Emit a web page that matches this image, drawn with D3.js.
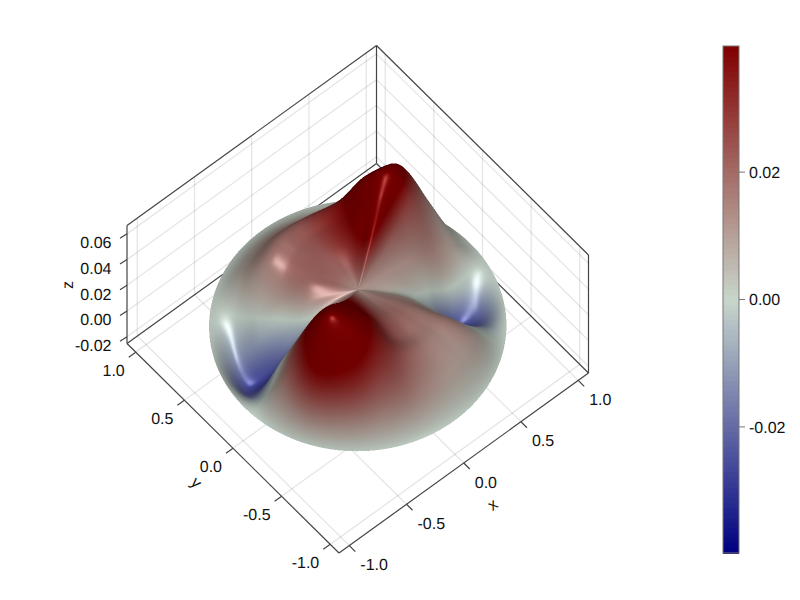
<!DOCTYPE html>
<html><head><meta charset="utf-8">
<style>html,body{margin:0;background:#fff}body{position:relative;width:800px;height:600px;overflow:hidden}svg,canvas{position:absolute;left:0;top:0}text{font-family:"Liberation Sans",Arial,sans-serif;font-size:16px;fill:#111;text-rendering:geometricPrecision}</style>
<script src="https://cdn.jsdelivr.net/npm/d3@7"></script></head>
<body><svg id="c" width="800" height="600"></svg>
<script>
const xTicks=[-1,-0.5,0,0.5,1], yTicks=[-1,-0.5,0,0.5,1], zTicks=[-0.02,0,0.02,0.04,0.06], cTicks=[-0.02,0,0.02];
const radii=[0,0.165,0.33,0.495,0.66,0.825,0.99];
const anglesDeg=[0,15,30,45,60,75,90,105,120,135,150,165,180,195,210,225,240,255,270,285,300,315,330,345,360];
// colour value read at each radius (rows) and angle (columns)
const colourRows=[
[.012,.012,.012,.012,.012,.012,.012,.012,.012,.012,.012,.012,.012,.012,.012,.012,.012,.012,.012,.012,.012,.012,.012,.012,.012],
[.012,.016,.028,.028,.024,.020,.019,.019,.019,.018,.017,.012,.016,.024,.032,.030,.026,.020,.017,.016,.015,.012,.008,.009,.012],
[.012,.020,.042,.042,.034,.028,.022,.021,.020,.018,.012,.000,.010,.032,.045,.044,.036,.025,.020,.018,.016,.011,.002,.008,.012],
[.013,.024,.050,.048,.038,.030,.023,.020,.019,.012,.000,-.014,.002,.036,.052,.050,.038,.026,.019,.016,.015,.007,-.006,.004,.013],
[.014,.026,.054,.050,.036,.028,.020,.017,.014,.005,-.008,-.026,-.004,.034,.054,.052,.036,.024,.016,.013,.014,-.005,-.024,.001,.014],
[.008,.012,.036,.030,.020,.014,.012,.010,.007,.000,-.011,-.024,-.006,.020,.040,.036,.024,.016,.011,.009,.009,-.006,-.021,-.003,.008],
[0,0,0,0,0,0,0,0,0,0,0,0,0,0,0,0,0,0,0,0,0,0,0,0,0]];
// surface height read at each radius (rows) and angle (columns)
const heightRows=[
[.028,.028,.028,.028,.028,.028,.028,.028,.028,.028,.028,.028,.028,.028,.028,.028,.028,.028,.028,.028,.028,.028,.028,.028,.028],
[.027,.031,.036,.033,.030,.029,.029,.029,.029,.029,.028,.026,.028,.032,.037,.036,.034,.032,.030,.029,.028,.026,.024,.025,.027],
[.025,.034,.045,.040,.034,.031,.030,.030,.030,.029,.025,.019,.026,.040,.049,.048,.042,.036,.032,.030,.028,.023,.018,.020,.025],
[.022,.039,.055,.049,.036,.031,.030,.030,.028,.021,.014,.004,.020,.048,.062,.060,.052,.036,.030,.029,.027,.016,.006,.012,.022],
[.016,.045,.060,.052,.034,.029,.029,.030,.027,.012,.003,-.012,.016,.045,.066,.062,.050,.036,.030,.028,.026,.008,-.012,.002,.016],
[.010,.030,.047,.025,.009,.009,.011,.012,.011,.002,-.008,-.016,.000,.028,.042,.040,.032,.021,.018,.019,.018,.004,-.010,-.002,.010],
[0,0,0,0,0,0,0,0,0,0,0,0,0,0,0,0,0,0,0,0,0,0,0,0,0]];

const colourDomain=[-0.0398,0,0.0398], colourRange=["#000080","#c8d6cb","#800000"];
const ux=d3.scaleLinear([-1.09,1.09],[0,1]), uy=d3.scaleLinear([-1.09,1.09],[0,1]), uz=d3.scaleLinear([-0.0252,0.0665],[0,1]);
const colour=d3.scaleLinear(colourDomain,colourRange).clamp(true);
const O=[339,553],Ex=[249.5,-180],Ey=[-212,-209.5],Ez=[0,-118];
const proj=(a,b,c)=>[O[0]+a*Ex[0]+b*Ey[0]+c*Ez[0],O[1]+a*Ex[1]+b*Ey[1]+c*Ez[1]];
const P=(x,y,z)=>proj(ux(x),uy(y),uz(z));
const svg=d3.select("#c");
const gx0=ux.domain()[0],gx1=ux.domain()[1],gy0=uy.domain()[0],gy1=uy.domain()[1],gz0=uz.domain()[0],gz1=uz.domain()[1];
const seg=(g,a,b,st,w)=>g.append("line").attr("x1",a[0]).attr("y1",a[1]).attr("x2",b[0]).attr("y2",b[1]).attr("stroke",st).attr("stroke-width",w);

// walls' grid
const grid=svg.append("g");const gc="rgba(0,0,0,0.10)";
xTicks.forEach(t=>{seg(grid,P(t,gy0,gz0),P(t,gy1,gz0),gc,1.3);seg(grid,P(t,gy1,gz0),P(t,gy1,gz1),gc,1.3);});
yTicks.forEach(t=>{seg(grid,P(gx0,t,gz0),P(gx1,t,gz0),gc,1.3);seg(grid,P(gx1,t,gz0),P(gx1,t,gz1),gc,1.3);});
zTicks.forEach(t=>{seg(grid,P(gx0,gy1,t),P(gx1,gy1,t),gc,1.3);seg(grid,P(gx1,gy1,t),P(gx1,gy0,t),gc,1.3);});

// frame
const fr=svg.append("g");const fc="#444",fw=1.2;
[[[gx0,gy0,gz0],[gx1,gy0,gz0]],[[gx0,gy0,gz0],[gx0,gy1,gz0]],[[gx0,gy1,gz0],[gx1,gy1,gz0]],[[gx1,gy0,gz0],[gx1,gy1,gz0]],
 [[gx0,gy1,gz0],[gx0,gy1,gz1]],[[gx1,gy1,gz0],[gx1,gy1,gz1]],[[gx1,gy0,gz0],[gx1,gy0,gz1]],
 [[gx0,gy1,gz1],[gx1,gy1,gz1]],[[gx1,gy1,gz1],[gx1,gy0,gz1]]].forEach(e=>seg(fr,P(...e[0]),P(...e[1]),fc,fw));

// ticks + labels
const lab=svg.append("g");
const fmt1=v=>d3.format(".1f")(v).replace("−","-"),fmt2=v=>d3.format(".2f")(v).replace("−","-");
const txt=(x,y,s,a)=>lab.append("text").attr("x",x).attr("y",y).attr("dy","0.36em").attr("text-anchor",a).text(s);
xTicks.forEach(t=>{const p=P(t,gy0,gz0);seg(fr,p,[p[0]+6,p[1]+6],fc,fw);txt(p[0]+11,p[1]+19,fmt1(t),"start");});
yTicks.forEach(t=>{const p=P(gx0,t,gz0);seg(fr,p,[p[0]-7,p[1]+5],fc,fw);txt(p[0]-11,p[1]+18,fmt1(t),"end");});
zTicks.forEach(t=>{const p=P(gx0,gy1,t);seg(fr,p,[p[0]-7,p[1]+4.5],fc,fw);txt(p[0]-15.5,p[1]+8.5,fmt2(t),"end");});
const rot=(x,y,r,s)=>lab.append("text").attr("transform",`translate(${x},${y}) rotate(${r})`).attr("dy","0.3em").attr("text-anchor","middle").text(s);
rot(493,505,-36,"x");rot(196,483,45,"y");rot(68,285,-90,"z");

// surface: fine mesh resampled from the read tables
const cr=(p0,p1,p2,p3,t)=>0.5*(2*p1+(p2-p0)*t+(2*p0-5*p1+4*p2-p3)*t*t+(3*p1-p0-3*p2+p3)*t*t*t);
function sample(rows,ri,ai){
  const nr=rows.length-1,na=rows[0].length-1;
  const i=Math.min(Math.floor(ri),nr-1),ti=ri-i,j=Math.min(Math.floor(ai),na-1),tj=ai-j;
  const cl=(v,m)=>Math.max(0,Math.min(m,v));
  const col=k=>{const R=rows[cl(k,nr)];return cr(R[cl(j-1,na)],R[j],R[j+1],R[cl(j+2,na)],tj);};
  return cr(col(i-1),col(i),col(i+1),col(i+2),ti);
}
const rIndex=d3.scaleLinear(radii,d3.range(radii.length)),aIndex=d3.scaleLinear(anglesDeg,d3.range(anglesDeg.length));
const NR=90,NA=300;
const rs=d3.range(NR+1).map(i=>radii[radii.length-1]*i/NR),as=d3.range(NA+1).map(i=>360*i/NA);
const sx=327.3,sz=216.5,SS=2;
const V=[-0.353,-0.415,0.838];
const ambient=0.56,diffuse=0.40,specular=0.27,shine=32;
const nodes=rs.map(r=>as.map(a=>{const ri=rIndex(r),ai=aIndex(a),z=sample(heightRows,ri,ai),c=sample(colourRows,ri,ai);
  const x=r*Math.cos(a*Math.PI/180),y=r*Math.sin(a*Math.PI/180),s=P(x,y,z);
  const w=[ux(x)*sx,uy(y)*sx,uz(z)*sz];
  return {c,sx:s[0]*SS,sy:s[1]*SS,w,d:w[0]*V[0]+w[1]*V[1]+w[2]*V[2]};}));
for(let i=0;i<=NR;i++)for(let j=0;j<=NA;j++){
  const ii=Math.max(i,1),A=nodes[Math.min(ii+1,NR)][j].w,B=nodes[ii-1][j].w,C=nodes[ii][Math.min(j+1,NA)].w,D=nodes[ii][Math.max(j-1,0)].w;
  const u=[A[0]-B[0],A[1]-B[1],A[2]-B[2]],v=[C[0]-D[0],C[1]-D[1],C[2]-D[2]];
  const n=[u[1]*v[2]-u[2]*v[1],u[2]*v[0]-u[0]*v[2],u[0]*v[1]-u[1]*v[0]],l=Math.hypot(...n)||1;
  nodes[i][j].n=n.map(q=>q/l);
}
const W=800*SS,H=600*SS,zbuf=new Float32Array(W*H).fill(-1e9);
const off=document.createElement("canvas");off.width=W;off.height=H;
const octx=off.getContext("2d"),img=octx.createImageData(W,H),px=img.data;
const lutN=512,lutArr=d3.range(lutN+1).map(i=>{const q=d3.rgb(colour(-0.0398+0.0796*i/lutN));return [q.r,q.g,q.b];});
const lut=v=>lutArr[Math.max(0,Math.min(lutN,Math.round((v+0.0398)/0.0796*lutN)))];
function tri(a,b,c){
  const minX=Math.max(0,Math.floor(Math.min(a.sx,b.sx,c.sx))),maxX=Math.min(W-1,Math.ceil(Math.max(a.sx,b.sx,c.sx)));
  const minY=Math.max(0,Math.floor(Math.min(a.sy,b.sy,c.sy))),maxY=Math.min(H-1,Math.ceil(Math.max(a.sy,b.sy,c.sy)));
  const den=(b.sy-c.sy)*(a.sx-c.sx)+(c.sx-b.sx)*(a.sy-c.sy);if(Math.abs(den)<1e-9)return;
  for(let Y=minY;Y<=maxY;Y++)for(let X=minX;X<=maxX;X++){
    const qx=X+.5,qy=Y+.5,l1=((b.sy-c.sy)*(qx-c.sx)+(c.sx-b.sx)*(qy-c.sy))/den,l2=((c.sy-a.sy)*(qx-c.sx)+(a.sx-c.sx)*(qy-c.sy))/den,l3=1-l1-l2;
    if(l1<-1e-4||l2<-1e-4||l3<-1e-4)continue;
    const d=l1*a.d+l2*b.d+l3*c.d,k=Y*W+X;if(d<=zbuf[k])continue;zbuf[k]=d;
    const nx=l1*a.n[0]+l2*b.n[0]+l3*c.n[0],ny=l1*a.n[1]+l2*b.n[1]+l3*c.n[1],nz=l1*a.n[2]+l2*b.n[2]+l3*c.n[2],len=Math.hypot(nx,ny,nz)||1;
    const nv=Math.abs(nx*V[0]+ny*V[1]+nz*V[2])/len,val=l1*a.c+l2*b.c+l3*c.c;
    const base=lut(val),f=ambient+diffuse*nv,sp=255*specular*Math.pow(nv,shine),o=k*4;
    px[o]=Math.min(255,base[0]*f+sp);px[o+1]=Math.min(255,base[1]*f+sp);px[o+2]=Math.min(255,base[2]*f+sp);px[o+3]=255;
  }
}
for(let i=0;i<NR;i++)for(let j=0;j<NA;j++){const a=nodes[i][j],b=nodes[i+1][j],c=nodes[i+1][j+1],d=nodes[i][j+1];tri(a,b,c);tri(a,c,d);}
octx.putImageData(img,0,0);
const cv=d3.select("body").append("canvas").attr("width",800).attr("height",600).style("pointer-events","none").node();
const ctx=cv.getContext("2d");ctx.imageSmoothingEnabled=true;ctx.imageSmoothingQuality="high";ctx.drawImage(off,0,0,800,600);

// colorbar
const cb=svg.append("g");
const cY=d3.scaleLinear([-0.0398,0.0398],[553,46]);
const steps=d3.range(100).map(i=>-0.0398+0.0796*i/100);
cb.append("g").attr("shape-rendering","crispEdges").selectAll("rect").data(steps).join("rect").attr("x",723).attr("width",16)
  .attr("y",d=>cY(d+0.000796)).attr("height",d=>cY(d)-cY(d+0.000796)+0.5).attr("fill",d=>colour(d+0.000398));
cb.append("rect").attr("x",723).attr("y",46).attr("width",16).attr("height",507).attr("fill","none").attr("stroke","#777").attr("stroke-width",1);
cTicks.forEach(t=>{const y=cY(t);seg(cb,[739,y],[745,y],"#777",1);
  cb.append("text").attr("x",749).attr("y",y).attr("dy","0.36em").text(fmt2(t));});
</script></body></html>
